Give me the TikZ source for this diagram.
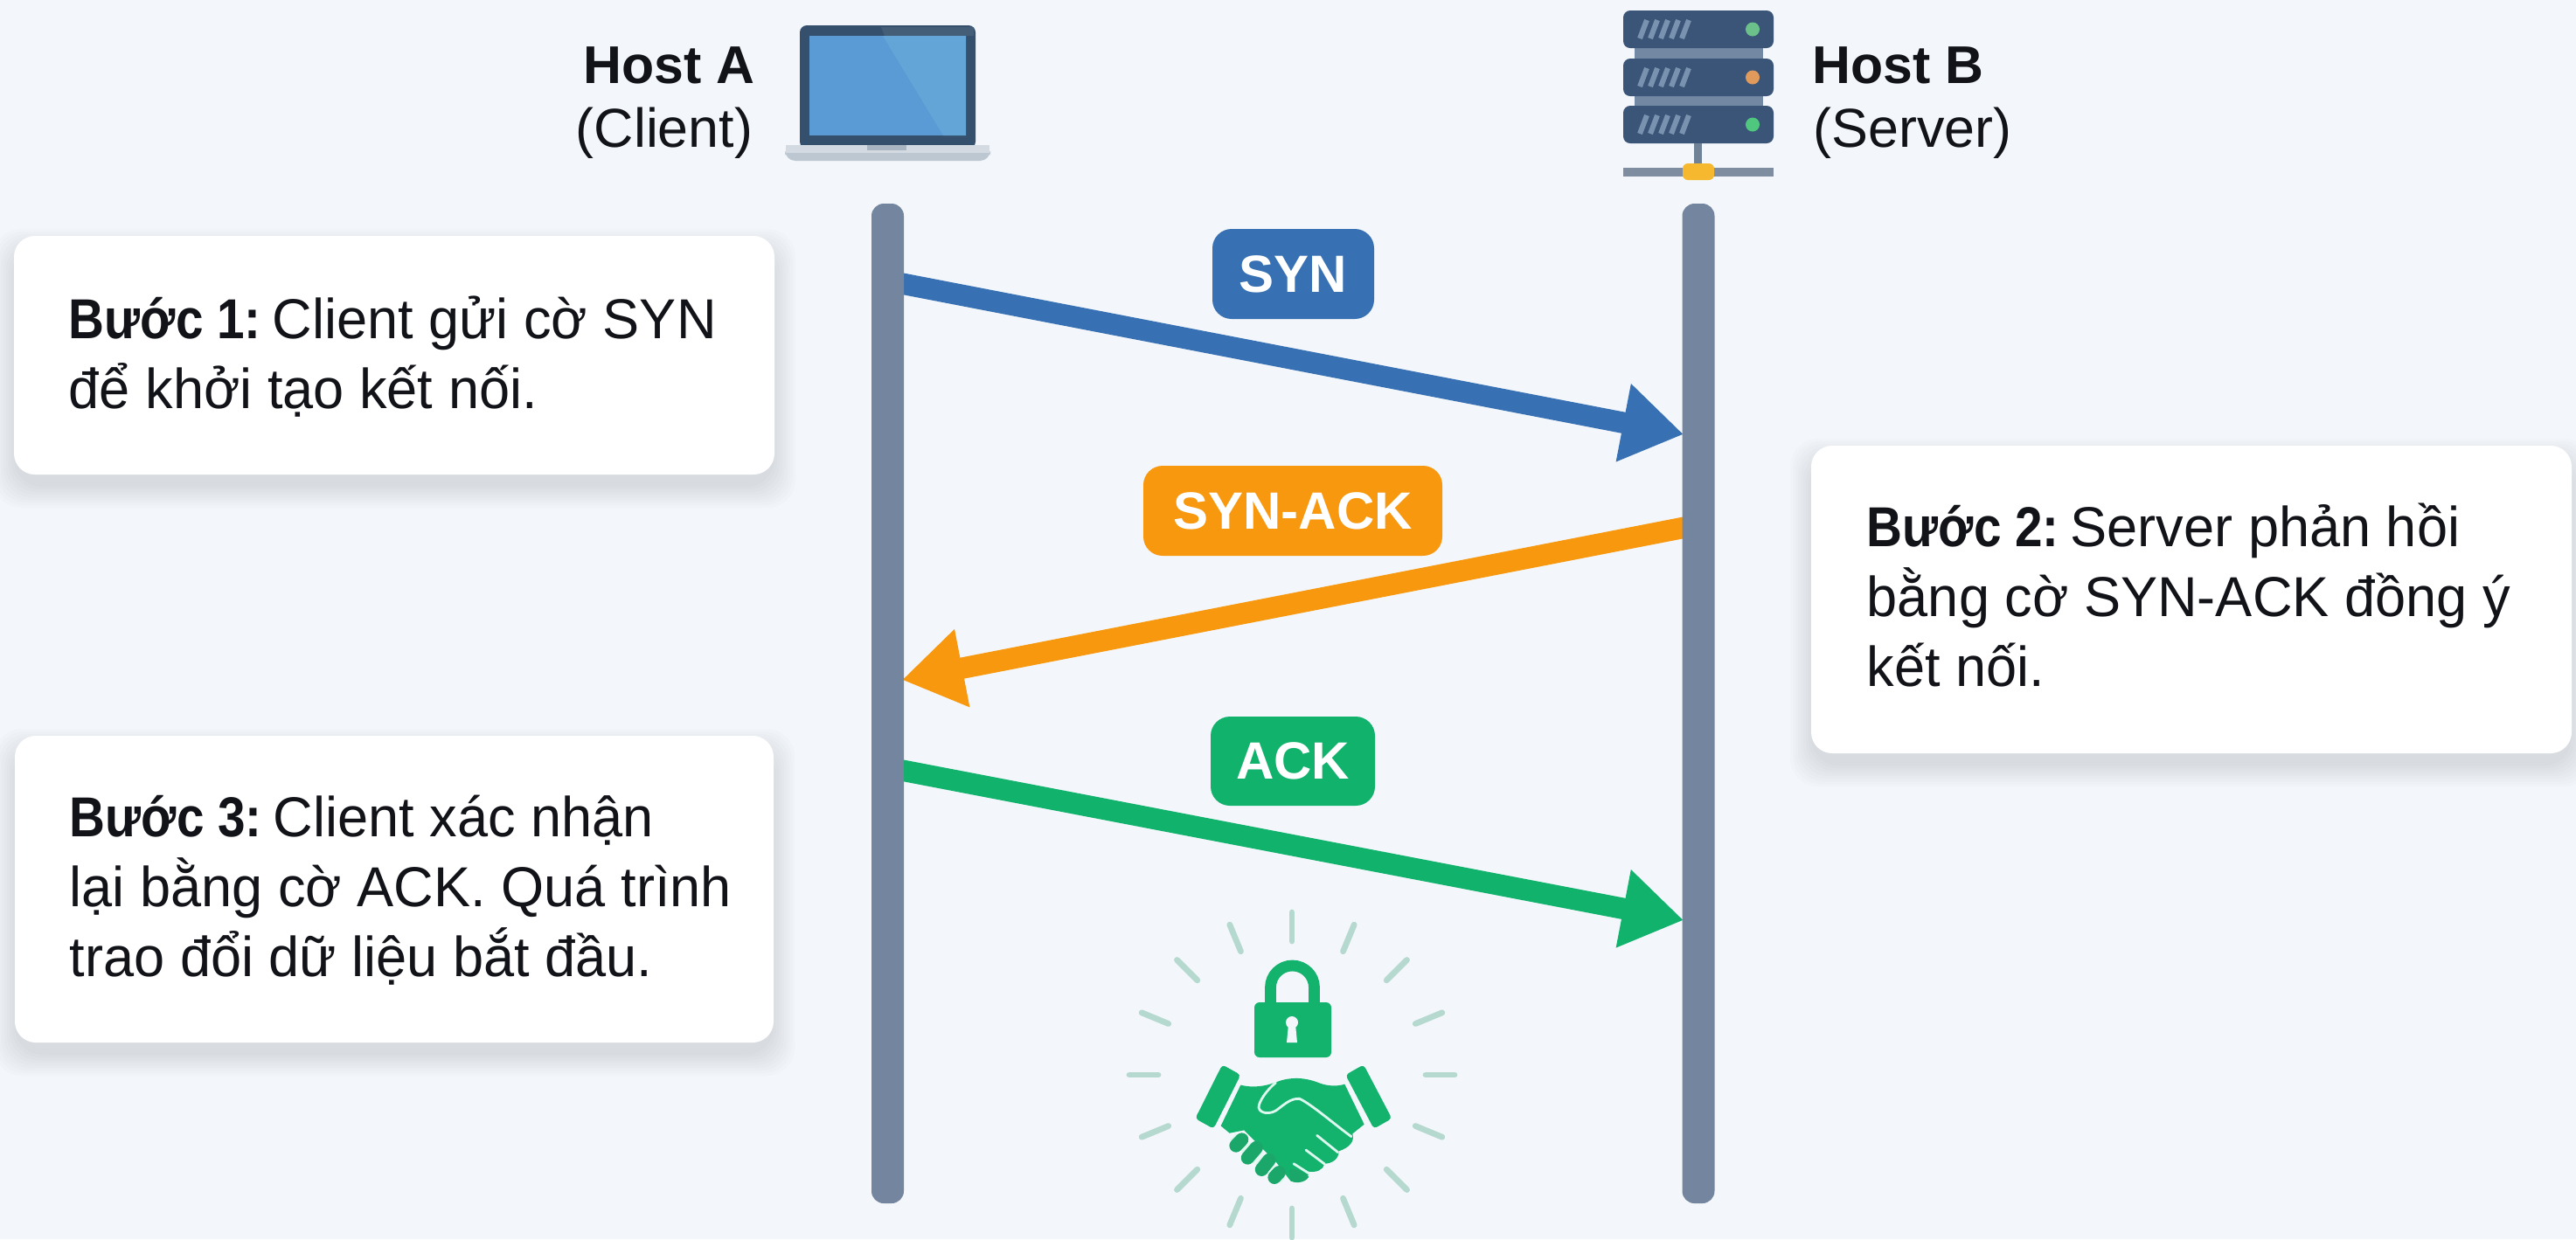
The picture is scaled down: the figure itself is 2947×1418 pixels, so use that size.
\documentclass[tikz,border=0pt]{standalone}
\usepackage{fontspec}
\setmainfont{Liberation Sans}
\newfontfamily\stepfont[FakeStretch=0.98]{Liberation Sans}
\newfontfamily\stepbold[FakeStretch=0.88]{Liberation Sans Bold}
\usetikzlibrary{arrows.meta}
\definecolor{bgc}{HTML}{F3F7FB}
\definecolor{lifec}{HTML}{74869F}
\definecolor{blueA}{HTML}{3871B3}
\definecolor{orangeA}{HTML}{F7980F}
\definecolor{greenA}{HTML}{10B26C}
\definecolor{inkc}{HTML}{111318}
\definecolor{lidc}{HTML}{34506C}
\definecolor{unitc}{HTML}{3B5578}
\definecolor{linkc}{HTML}{7388A3}
\definecolor{rayc}{HTML}{B5D8CF}
\definecolor{handc}{HTML}{13B36E}
\definecolor{handd}{HTML}{1BA769}
\definecolor{haloc}{HTML}{DDF8EE}
\definecolor{screenA}{HTML}{5B9BD5}
\definecolor{screenB}{HTML}{63A5D6}
\definecolor{baseA}{HTML}{BDC7D1}
\definecolor{baseB}{HTML}{D3DAE1}
\definecolor{baseC}{HTML}{A9B5C1}
\definecolor{slashc}{HTML}{7892B0}
\definecolor{ledA}{HTML}{6CC18A}
\definecolor{ledB}{HTML}{E09A5B}
\definecolor{ledC}{HTML}{4FC77F}
\definecolor{stemc}{HTML}{6F8296}
\definecolor{barc}{HTML}{7E8DA0}
\definecolor{yelc}{HTML}{F5B82E}
\definecolor{shadc}{HTML}{4A5664}
\tikzset{
  x=0.25pt,y=-0.25pt,
  lifeline/.style={fill=lifec,rounded corners=3.5pt,minimum width=9.25pt,inner sep=0pt},
  card/.style={fill=white,rounded corners=6pt,inner sep=0pt},
  steptext/.style={anchor=base west,inner sep=0pt,align=left,text=inkc,font=\fontsize{16.1pt}{20pt}\selectfont\stepfont},
  badge/.style={rounded corners=5.5pt,inner sep=0pt,text=white,font=\fontsize{15pt}{18pt}\selectfont\bfseries},
  msg/.style={line width=6.1pt,-{Triangle[length=17.5pt,width=21.5pt]}},
  hosttitle/.style={inner sep=0pt,text=inkc,font=\fontsize{15.2pt}{18pt}\selectfont\bfseries},
  hostsub/.style={inner sep=0pt,text=inkc,font=\fontsize{15.7pt}{18pt}\selectfont},
  ray/.style={rayc,line width=1.7pt,line cap=round},
  finger/.style={handd,line width=3.8pt,line cap=round,preaction={draw=haloc,line width=4.8pt}},
  split/.style={haloc,line width=0.7pt,line cap=round}
}
\newcommand{\cardshadow}[4]{%
  \foreach \s in {0,3,...,24}{%
    \fill[shadc,opacity=0.016,rounded corners=8pt]
      ({#1-\s},{#2-\s+16}) rectangle ({#3+\s},{#4+\s+14});}}
\newcommand{\bstep}[1]{{\stepbold #1}\hspace{-2.6pt}}
\begin{document}
\begin{tikzpicture}
\useasboundingbox (0,0) rectangle (2947,1418);
\fill[bgc] (0,0) rectangle (2947,1418);

% cards
\cardshadow{16}{270}{886}{543}
\cardshadow{2072}{510}{2942}{862}
\cardshadow{17}{842}{885}{1193}
\node[card,minimum width=217.5pt,minimum height=68.25pt] (cardA) at (451,406.5) {};
\node[card,minimum width=217.5pt,minimum height=88pt] (cardB) at (2507,686) {};
\node[card,minimum width=217pt,minimum height=87.75pt] (cardC) at (451,1017.5) {};
\node[steptext] (textA) at (78,467) {\bstep{Bước 1:} Client gửi cờ SYN\\để khởi tạo kết nối.};
\node[steptext] (textB) at (2135,785) {\bstep{Bước 2:} Server phản hồi\\bằng cờ SYN-ACK đồng ý\\kết nối.};
\node[steptext] (textC) at (79,1117) {\bstep{Bước 3:} Client xác nhận\\lại bằng cờ ACK. Quá trình\\trao đổi dữ liệu bắt đầu.};

% messages
\coordinate (synS) at (1015.5,321.4);
\coordinate (synT) at (1926,497);
\coordinate (saS) at (1943,600.5);
\coordinate (saT) at (1032,778);
\coordinate (ackS) at (1015.5,878.4);
\coordinate (ackT) at (1926,1053);
\draw[msg,blueA] (synS) -- (synT);
\draw[msg,orangeA] (saS) -- (saT);
\draw[msg,greenA] (ackS) -- (ackT);

% lifelines
\node[lifeline,minimum height=286pt] (lifeA) at (1015.5,805) {};
\node[lifeline,minimum height=286pt] (lifeB) at (1943,805) {};

% badges
\node[badge,fill=blueA,minimum width=46.25pt,minimum height=25.75pt] (synB) at (1479.5,313.5) {SYN};
\node[badge,fill=orangeA,minimum width=85.5pt,minimum height=25.75pt] (saB) at (1479,584.5) {SYN-ACK};
\node[badge,fill=greenA,minimum width=47pt,minimum height=25.5pt] (ackB) at (1479,871) {ACK};

% host labels
\node[hosttitle,anchor=base east] (hostA) at (864,95) {Host A};
\node[hostsub,anchor=base east] (clientL) at (862,168) {(Client)};
\node[hosttitle,anchor=base west] (hostB) at (2073,95) {Host B};
\node[hostsub,anchor=base west] (serverL) at (2074,168) {(Server)};

% laptop
\fill[lidc,rounded corners=2pt] (915,170) -- (915,29) -- (1116,29) -- (1116,170) -- cycle;
\fill[lidc!92!white] (1008,31) -- (1114,31) -- (1114,41) -- (1012,41) -- cycle;
\fill[screenA] (926,41) rectangle (1105,155);
\fill[screenB] (1010,41) -- (1105,41) -- (1105,155) -- (1079,155) -- cycle;
\fill[baseA,rounded corners=3pt] (898,166) -- (1133,166) -- (1133,184) -- (898,184) -- cycle;
\fill[baseB] (899,166) rectangle (1132,175);
\fill[baseC] (992,166) rectangle (1037,172);

% server
\fill[linkc] (1870,50) rectangle (2017,72);
\fill[linkc] (1870,105) rectangle (2017,126);
\foreach \yy/\led in {12/ledA,67/ledB,121/ledC}{
  \fill[unitc,rounded corners=2pt] (1857,\yy) rectangle (2029,{\yy+43});
  \foreach \k in {0,1,2,3,4}{
    \draw[slashc,line width=1.5pt] ({1876+\k*12},{\yy+32}) -- ({1884+\k*12},{\yy+11});
  }
  \fill[\led] (2005,{\yy+21.5}) circle (8);
}
\fill[stemc] (1938,164) rectangle (1947,192);
\fill[barc] (1857,192) rectangle (2029,202);
\fill[yelc,rounded corners=1.5pt] (1925,187) rectangle (1961,206);

% rays
\foreach \a in {0,22.5,...,337.5}{
  \draw[ray] ({1478+153*cos(\a)},{1230-153*sin(\a)}) -- ({1478+186*cos(\a)},{1230-186*sin(\a)});
}

% lock
\draw[handc,line width=3.2pt] (1453.5,1150) -- (1453.5,1130) arc[start angle=180,end angle=0,x radius=25,y radius=-25] -- (1503.5,1150);
\fill[handc,rounded corners=1.5pt] (1435,1147) rectangle (1523,1210);
\fill[bgc] (1478,1170) circle (7);
\fill[bgc] (1474,1172) -- (1482,1172) -- (1484,1193) -- (1472,1193) -- cycle;

% handshake
\begin{scope}[shift={(1260,1030)},scale=1/3]
  \fill[handc,rounded corners=1pt] (415,565) -- (478,600) -- (385,785) -- (322,750) -- cycle;
  \fill[handc,rounded corners=1pt] (900,565) -- (838,600) -- (935,785) -- (997,750) -- cycle;
  \fill[handc] (478,635) .. controls (520,645) and (560,640) .. (600,625)
     .. controls (650,605) and (700,610) .. (740,625)
     .. controls (775,640) and (810,640) .. (835,632) -- (902,770) -- (862,802)
     .. controls (870,830) and (850,850) .. (815,862)
     .. controls (815,890) and (790,905) .. (765,905)
     .. controls (760,930) and (735,935) .. (712,932)
     .. controls (712,960) and (680,975) .. (650,965)
     -- (600,900) -- (490,790) -- (440,800) -- (410,775) -- cycle;
  \draw[finger] (462,843) -- (482,822);
  \draw[finger] (502,885) -- (532,850);
  \draw[finger] (550,925) -- (576,892);
  \draw[finger] (594,952) -- (610,935);
  \fill[handd] (645,925) .. controls (670,920) and (700,935) .. (712,950) .. controls (700,972) and (660,975) .. (648,960) -- cycle;
  \draw[split] (598,627) .. controls (570,650) and (540,690) .. (540,712)
     .. controls (545,735) and (580,735) .. (600,722)
     .. controls (630,700) and (650,680) .. (680,682)
     .. controls (720,700) and (800,770) .. (858,812);
  \draw[split] (740,808) -- (812,866);
  \draw[split] (702,858) -- (766,906);
  \draw[split] (660,905) -- (712,938);
\end{scope}
\end{tikzpicture}
\end{document}
